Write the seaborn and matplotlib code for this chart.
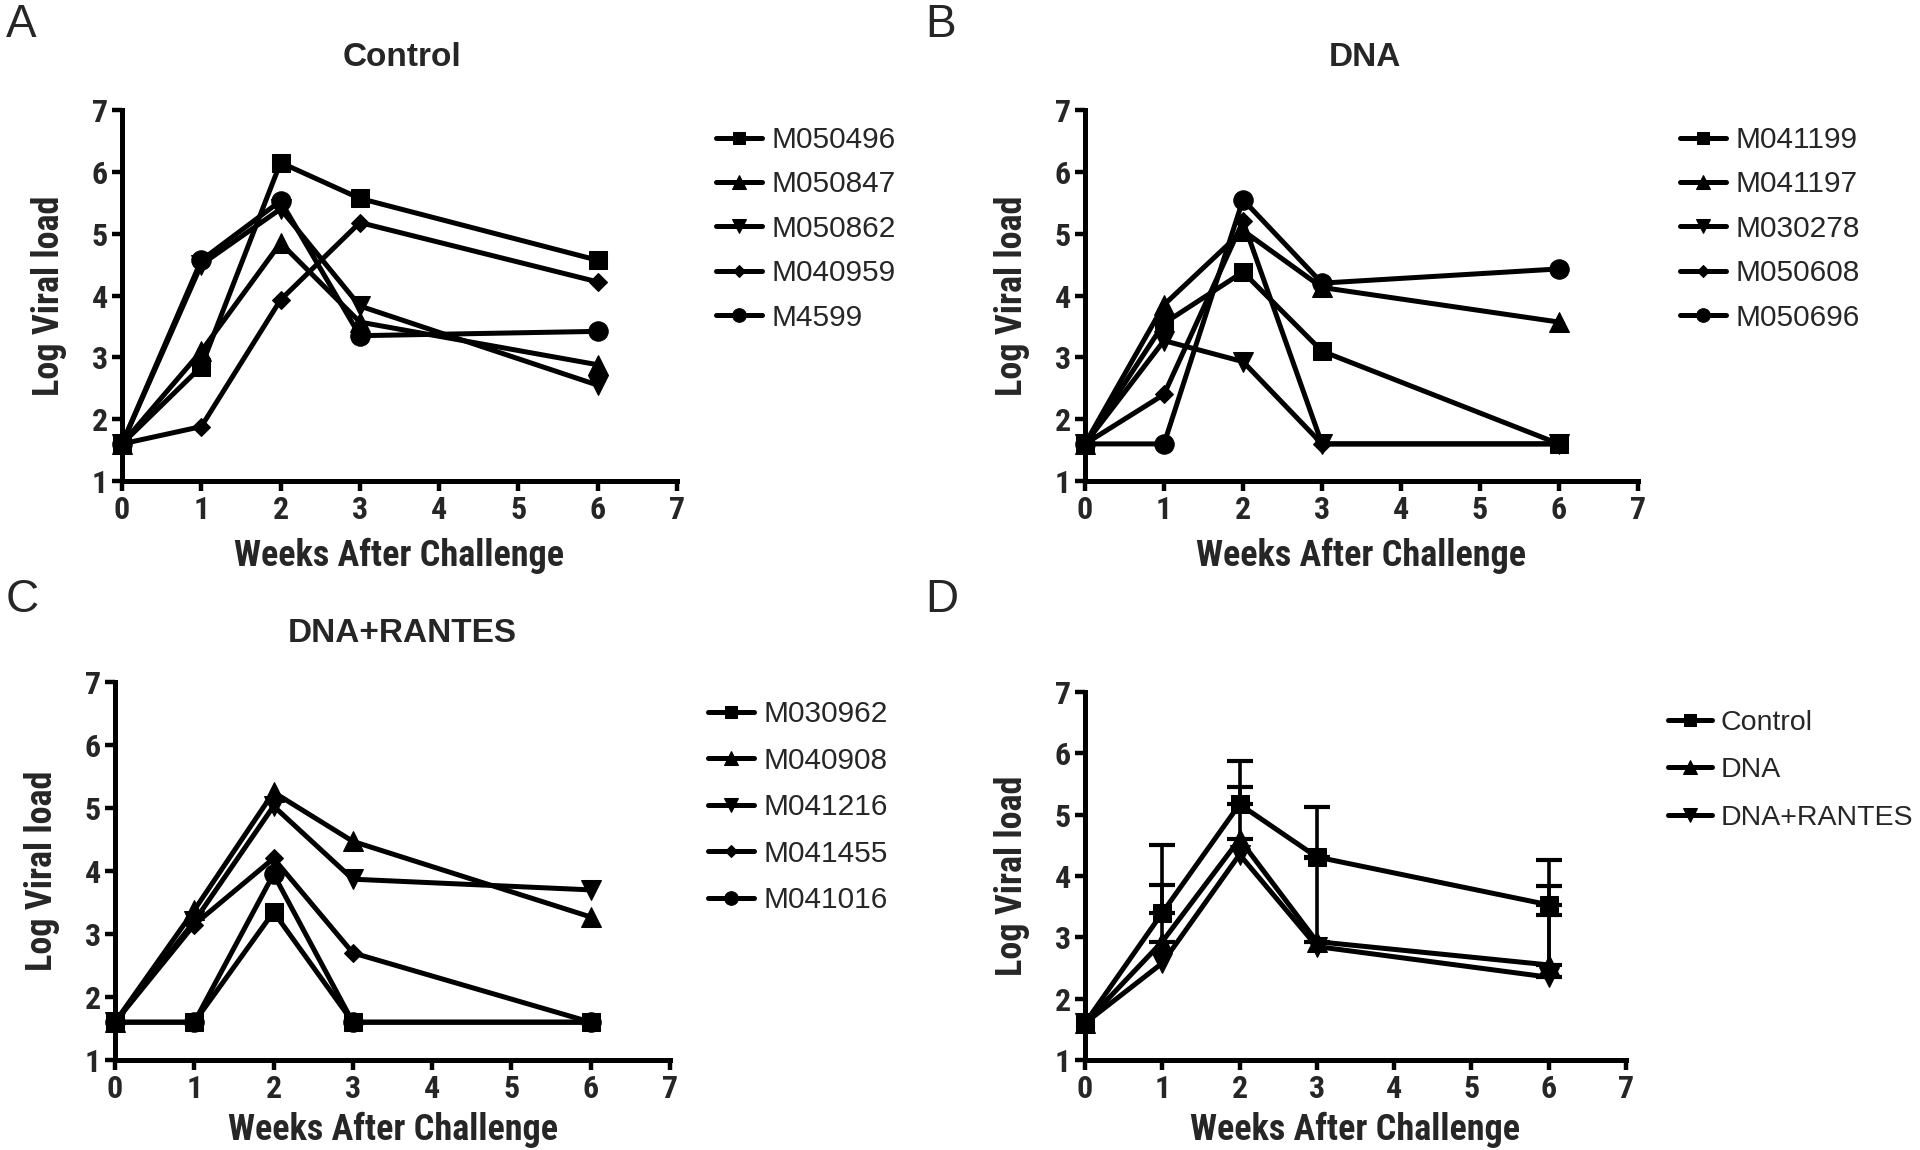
import numpy as np
import matplotlib
matplotlib.use("Agg")
import matplotlib.pyplot as plt
import seaborn as sns

# weeks after challenge
weeks = [0, 1, 2, 3, 6]

# A: Control animals
control_names = ["M050496", "M050847", "M050862", "M040959", "M4599"]
control_vals = [
    [1.6, 2.85, 6.15, 5.57, 4.57],
    [1.6, 3.10, 4.85, 3.57, 2.88],
    [1.6, 4.50, 5.40, 3.83, 2.55],
    [1.6, 1.88, 3.93, 5.18, 4.22],
    [1.6, 4.57, 5.53, 3.35, 3.42],
]

# B: DNA animals
dna_names = ["M041199", "M041197", "M030278", "M050608", "M050696"]
dna_vals = [
    [1.6, 3.55, 4.38, 3.10, 1.6],
    [1.6, 3.85, 5.05, 4.13, 3.57],
    [1.6, 3.27, 2.93, 1.60, 1.6],
    [1.6, 2.40, 5.20, 1.60, 1.6],
    [1.6, 1.60, 5.55, 4.20, 4.43],
]

# C: DNA+RANTES animals
rantes_names = ["M030962", "M040908", "M041216", "M041455", "M041016"]
rantes_vals = [
    [1.6, 1.60, 3.35, 1.60, 1.60],
    [1.6, 3.38, 5.25, 4.47, 3.27],
    [1.6, 3.20, 5.03, 3.87, 3.70],
    [1.6, 3.15, 4.20, 2.70, 1.60],
    [1.6, 1.60, 3.95, 1.60, 1.60],
]

# D: group means with upper error bar ends
group_names = ["Control", "DNA", "DNA+RANTES"]
group_means = [
    [1.6, 3.40, 5.17, 4.31, 3.53],
    [1.6, 2.93, 4.60, 2.93, 2.55],
    [1.6, 2.58, 4.35, 2.85, 2.35],
]
group_upper = [
    [np.nan, 4.50, 5.88, 5.12, 4.26],
    [np.nan, 3.86, 5.45, 4.30, 3.83],
    [np.nan, np.nan, np.nan, np.nan, 3.36],
]

markers = ["s", "^", "v", "D", "o"]
msizes = [13, 14, 14, 9, 14]

sns.set_theme(style="white")
plt.rcParams["font.family"] = ["Liberation Sans", "DejaVu Sans"]
narrow = ["Roboto Condensed", "Liberation Sans", "DejaVu Sans"]

W, H = 1920, 1150
fig = plt.figure(figsize=(19.2, 11.5), dpi=100)


def make_ax(x0, x1, y0, y1, xpad=9):
    ax = fig.add_axes([x0 / W, 1 - y1 / H, (x1 - x0) / W, (y1 - y0) / H])
    ax.set_xlim(0, 7)
    ax.set_ylim(1, 7)
    ax.set_xticks(range(0, 8))
    ax.set_yticks(range(1, 8))
    for s in ["top", "right"]:
        ax.spines[s].set_visible(False)
    for s in ["left", "bottom"]:
        ax.spines[s].set_linewidth(3.6)
        ax.spines[s].set_color("black")
    ax.tick_params(direction="out", length=7, width=3.2, color="black", pad=3,
                   left=True, bottom=True)
    for lab in ax.get_xticklabels() + ax.get_yticklabels():
        lab.set_family(narrow)
        lab.set_fontweight("bold")
        lab.set_fontsize(23)
    ax.set_xlabel("Weeks After Challenge", family=narrow, fontweight="bold",
                  fontsize=26, labelpad=xpad)
    ax.set_ylabel("Log Viral load", family=narrow, fontweight="bold",
                  fontsize=26, labelpad=18)
    return ax


def draw_lines(ax, names, vals):
    for i, (n, v) in enumerate(zip(names, vals)):
        sns.lineplot(x=weeks, y=v, ax=ax, color="black", linewidth=3.6,
                     marker=markers[i], markersize=msizes[i],
                     markeredgecolor="black", markerfacecolor="black",
                     label=n, clip_on=False, zorder=3)


def add_legend(ax, x, y, fs=21.5, spacing=0.55):
    leg = ax.legend(loc="upper left", bbox_to_anchor=(x / W, 1 - y / H),
                    bbox_transform=fig.transFigure, frameon=False,
                    fontsize=fs, handlelength=1.55, handletextpad=0.3,
                    labelspacing=spacing, borderpad=0, borderaxespad=0,
                    markerscale=0.7)
    for h in leg.legend_handles:
        h.set_linewidth(3.6)
    return leg


axA = make_ax(122, 677, 110, 481)
draw_lines(axA, control_names, control_vals)
add_legend(axA, 716, 126)

axB = make_ax(1085, 1638, 110, 481)
draw_lines(axB, dna_names, dna_vals)
add_legend(axB, 1680, 126)

axC = make_ax(115, 670, 682, 1060, xpad=6)
draw_lines(axC, rantes_names, rantes_vals)
add_legend(axC, 708, 700, spacing=0.62)

axD = make_ax(1085, 1626, 692, 1060, xpad=6)
for i in range(3):
    m = np.array(group_means[i])
    up = np.array(group_upper[i])
    err = np.where(np.isnan(up), 0, up - m)
    ok = ~np.isnan(up)
    axD.errorbar(np.array(weeks)[ok], m[ok], yerr=[np.zeros(ok.sum()), err[ok]],
                 fmt="none", ecolor="black", elinewidth=2.6, capsize=9.5,
                 capthick=3, zorder=2, clip_on=False)
draw_lines(axD, group_names, group_means)
add_legend(axD, 1668, 710, fs=20.5, spacing=0.75)

# panel titles
fig.text(402 / W, 1 - 57 / H, "Control", ha="center", va="center",
         fontsize=24, fontweight="bold")
fig.text(1365 / W, 1 - 57 / H, "DNA", ha="center", va="center",
         fontsize=24, fontweight="bold")
fig.text(402 / W, 1 - 634 / H, "DNA+RANTES", ha="center", va="center",
         fontsize=24, fontweight="bold")

# panel letters
for letter, x, y in [("A", 6, 25), ("B", 925, 25), ("C", 6, 600), ("D", 925, 600)]:
    fig.text(x / W, 1 - y / H, letter, ha="left", va="center", fontsize=33)

fig.savefig("out.png", dpi=100)
